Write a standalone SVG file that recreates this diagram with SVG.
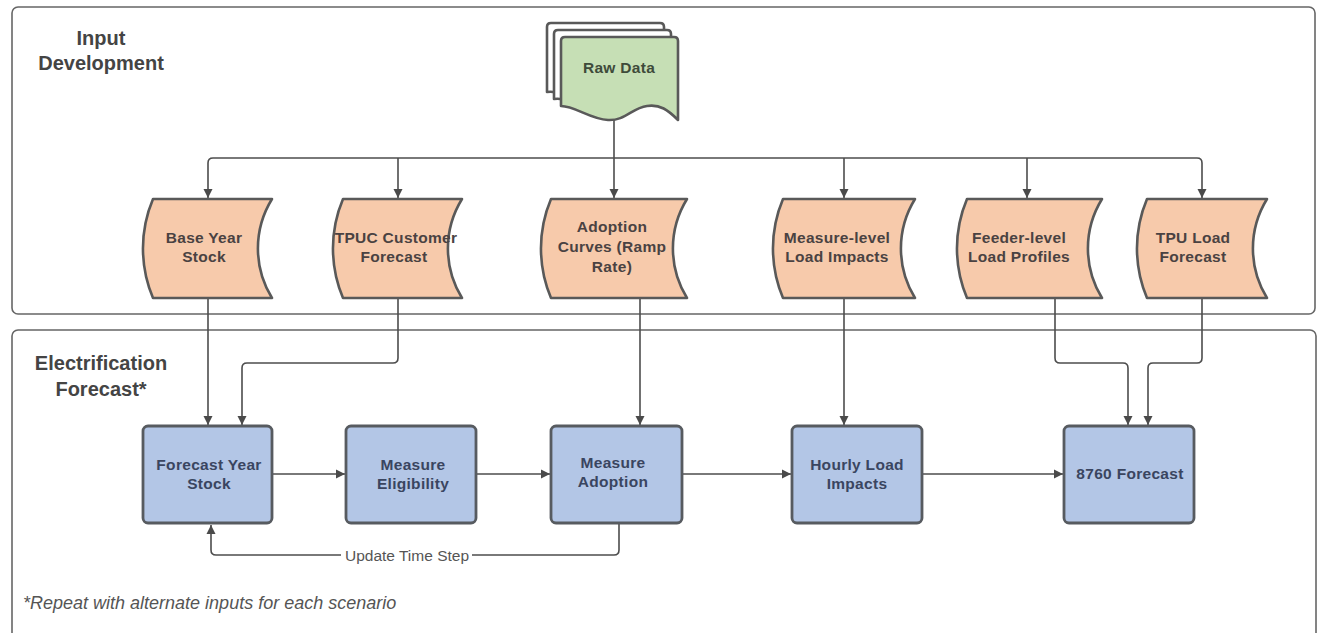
<svg xmlns="http://www.w3.org/2000/svg" width="1317" height="633" viewBox="0 0 1317 633">
<defs>
<marker id="arr" markerUnits="userSpaceOnUse" markerWidth="10" markerHeight="10" refX="9" refY="5" orient="auto">
<path d="M0,0.5 L9,5 L0,9.5 z" fill="#4a4a4a"/>
</marker>
<style>
.panel{fill:#ffffff;stroke:#666;stroke-width:1.6}
.title{font-family:"Liberation Sans",Arial,sans-serif;font-weight:bold;font-size:20px;fill:#444;text-anchor:middle}
.doc{fill:#ffffff;stroke:#595959;stroke-width:2.6;stroke-linejoin:round}
.docf{fill:#c6dfb5;stroke:#595959;stroke-width:2.6;stroke-linejoin:round}
.store{fill:#f7caab;stroke:#595959;stroke-width:2.6;stroke-linejoin:round}
.proc{fill:#b3c6e6;stroke:#575b60;stroke-width:2.8}
.t{font-family:"Liberation Sans",Arial,sans-serif;font-weight:bold;font-size:15.5px;text-anchor:middle;letter-spacing:0.3px}
.tg{fill:#3e4b3a}
.to{fill:#4a4242}
.tb{fill:#3a4560}
.conn path{fill:none;stroke:#4d4d4d;stroke-width:1.6}
.lbl{font-family:"Liberation Sans",Arial,sans-serif;font-size:15.5px;fill:#555;text-anchor:middle}
.note{font-family:"Liberation Sans",Arial,sans-serif;font-style:italic;font-size:18px;fill:#555}
</style>
</defs>
<rect width="1317" height="633" fill="#ffffff"/>

<g id="panel-input">
<rect class="panel" x="12" y="7" width="1303" height="307" rx="6"/>
<text class="title" x="101" y="45">Input</text>
<text class="title" x="101" y="70">Development</text>
</g>
<g id="panel-forecast">
<rect class="panel" x="12" y="330" width="1304" height="320" rx="6"/>
<text class="title" x="101" y="370">Electrification</text>
<text class="title" x="101" y="396">Forecast*</text>
<text class="note" x="23" y="609">*Repeat with alternate inputs for each scenario</text>
</g>

<g class="conn" id="connectors">
<path d="M614,119 V198" marker-end="url(#arr)"/>
<path d="M614,158 H213 Q208,158 208,163 V198" marker-end="url(#arr)"/>
<path d="M614,158 H1197 Q1202,158 1202,163 V198" marker-end="url(#arr)"/>
<path d="M398,158 V198" marker-end="url(#arr)"/>
<path d="M844,158 V198" marker-end="url(#arr)"/>
<path d="M1027,158 V198" marker-end="url(#arr)"/>
<path d="M208,298 V425" marker-end="url(#arr)"/>
<path d="M398,298 V358 Q398,363 393,363 H247 Q242,363 242,368 V425" marker-end="url(#arr)"/>
<path d="M640,297 V425" marker-end="url(#arr)"/>
<path d="M844,298 V425" marker-end="url(#arr)"/>
<path d="M1055,298 V358 Q1055,363 1060,363 H1123 Q1128,363 1128,368 V425" marker-end="url(#arr)"/>
<path d="M1202,298 V358 Q1202,363 1197,363 H1153 Q1148,363 1148,368 V425" marker-end="url(#arr)"/>
<path d="M272,474 H345" marker-end="url(#arr)"/>
<path d="M476,474 H550" marker-end="url(#arr)"/>
<path d="M682,474 H791" marker-end="url(#arr)"/>
<path d="M922,474 H1063" marker-end="url(#arr)"/>
<path d="M619,523 V550 Q619,555 614,555 H216 Q211,555 211,550 V525" marker-end="url(#arr)"/>
<rect x="341" y="546" width="131" height="18" fill="#ffffff"/>
<text class="lbl" x="407" y="560.5">Update Time Step</text>
</g>

<g id="raw-data">
<path class="doc" d="M547,27 Q547,23 551,23 H660 Q664,23 664,27 V106 C658,100 648,94 634,99 C622,104 606,112 590,106 C575,100 560,90 547,92 Z"/>
<path class="doc" d="M554,34 Q554,30 558,30 H667 Q671,30 671,34 V113 C665,107 655,101 641,106 C629,111 613,119 597,113 C582,107 567,97 554,99 Z"/>
<path class="docf" d="M561,41 Q561,37 565,37 H674 Q678,37 678,41 V120 C668,110 660,104 647,106 C632,108 625,121 608,120 C590,119 575,106 561,106 Z"/>
<text class="t tg" x="619" y="73">Raw Data</text>
</g>

<g id="base-year-stock">
<path class="store" d="M153,199 H272 A94 94 0 0 0 272,298 H153 A127 127 0 0 1 153,199 Z"/>
<text class="t to" x="204" y="242.5">Base Year</text>
<text class="t to" x="204" y="261.5">Stock</text>
</g>
<g id="tpuc-customer-forecast">
<path class="store" d="M343,199 H462 A94 94 0 0 0 462,298 H343 A127 127 0 0 1 343,199 Z"/>
<text class="t to" x="396" y="242.5">TPUC Customer</text>
<text class="t to" x="394" y="261.5">Forecast</text>
</g>
<g id="adoption-curves">
<path class="store" d="M551,199 H687 A94 94 0 0 0 687,298 H551 A127 127 0 0 1 551,199 Z"/>
<text class="t to" x="612" y="232">Adoption</text>
<text class="t to" x="612" y="252">Curves (Ramp</text>
<text class="t to" x="612" y="272">Rate)</text>
</g>
<g id="measure-level-load-impacts">
<path class="store" d="M783,199 H915 A94 94 0 0 0 915,298 H783 A127 127 0 0 1 783,199 Z"/>
<text class="t to" x="837" y="243">Measure-level</text>
<text class="t to" x="837" y="262">Load Impacts</text>
</g>
<g id="feeder-level-load-profiles">
<path class="store" d="M967,199 H1102 A94 94 0 0 0 1102,298 H967 A127 127 0 0 1 967,199 Z"/>
<text class="t to" x="1019" y="243">Feeder-level</text>
<text class="t to" x="1019" y="262">Load Profiles</text>
</g>
<g id="tpu-load-forecast">
<path class="store" d="M1147,199 H1267 A94 94 0 0 0 1267,298 H1147 A127 127 0 0 1 1147,199 Z"/>
<text class="t to" x="1193" y="243">TPU Load</text>
<text class="t to" x="1193" y="262">Forecast</text>
</g>

<g id="forecast-year-stock">
<rect class="proc" x="143" y="426" width="129" height="97" rx="5"/>
<text class="t tb" x="209" y="469.5">Forecast Year</text>
<text class="t tb" x="209" y="488.5">Stock</text>
</g>
<g id="measure-eligibility">
<rect class="proc" x="346" y="426" width="130" height="97" rx="5"/>
<text class="t tb" x="413" y="469.5">Measure</text>
<text class="t tb" x="413" y="488.5">Eligibility</text>
</g>
<g id="measure-adoption">
<rect class="proc" x="551" y="426" width="131" height="97" rx="5"/>
<text class="t tb" x="613" y="467.5">Measure</text>
<text class="t tb" x="613" y="486.5">Adoption</text>
</g>
<g id="hourly-load-impacts">
<rect class="proc" x="792" y="426" width="130" height="97" rx="5"/>
<text class="t tb" x="857" y="469.5">Hourly Load</text>
<text class="t tb" x="857" y="488.5">Impacts</text>
</g>
<g id="forecast-8760">
<rect class="proc" x="1064" y="426" width="130" height="97" rx="5"/>
<text class="t tb" x="1130" y="479">8760 Forecast</text>
</g>
</svg>
